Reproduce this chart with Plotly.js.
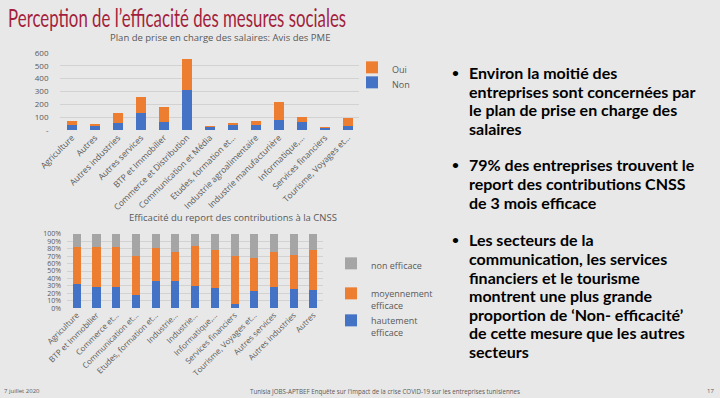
<!DOCTYPE html>
<html>
<head>
<meta charset="utf-8">
<script src="https://cdn.plot.ly/plotly-3.0.1.min.js"></script>
<style>
html,body{margin:0;padding:0;background:#e8e8e8;}
#chart{width:720px;height:398px;}
</style>
</head>
<body>
<div id="chart"></div>
<script>
// ---- Chart 1 data: Plan de prise en charge des salaires
const sectors1 = ["Agriculture", "Autres", "Autres industries", "Autres services", "BTP et Immobilier",
  "Commerce et Distribution", "Communication et Média", "Etudes, formation et…",
  "Industrie agroalimentaire", "Industrie manufacturière", "Informatique,…",
  "Services financiers", "Tourisme, Voyages et…"];
const non1 = [40, 29, 53, 130, 66, 312, 24, 37, 42, 79, 63, 13, 32];
const oui1 = [31, 19, 82, 127, 114, 244, 8, 21, 29, 141, 40, 8, 66];
const ticks1Vals = [0, 100, 200, 300, 400, 500, 600];
const ticks1Text = ["-", "100", "200", "300", "400", "500", "600"];

// ---- Chart 2 data: Efficacité du report des contributions à la CNSS (%)
const sectors2 = ["Agriculture", "BTP et Immobilier", "Commerce et Distribution", "Communication et Média",
  "Etudes, formation et conseil", "Industrie agroalimentaire", "Industrie manufacturière",
  "Informatique et télécoms", "Services financiers", "Tourisme, Voyages et loisirs",
  "Autres services", "Autres industries", "Autres"];
const labels2 = ["Agriculture", "BTP et Immobilier", "Commerce et…", "Communication et…",
  "Etudes, formation et…", "Industrie…", "Industrie…", "Informatique,…", "Services financiers",
  "Tourisme, Voyages et…", "Autres services", "Autres industries", "Autres"];
const haut2 = [32, 28, 28, 18, 36, 36, 30, 27, 5, 23, 29, 26, 25];
const moyen2 = [51, 54, 54, 52, 45, 40, 54, 52, 65, 45, 47, 46, 54];
const nonEff2 = [17, 18, 18, 30, 19, 24, 16, 21, 30, 32, 24, 28, 21];
const ticks2Vals = [0, 10, 20, 30, 40, 50, 60, 70, 80, 90, 100];
const ticks2Text = ticks2Vals.map(v => v + "%");

// ---- Slide text
const slideTitle = "Perception de l’efficacité des mesures sociales";
const bullets = [
  ["Environ la moitié des", "entreprises sont concernées par", "le plan de prise en charge des", "salaires"],
  ["79% des entreprises trouvent le", "report des contributions CNSS", "de 3 mois efficace"],
  ["Les secteurs de la", "communication, les services", "financiers et le tourisme", "montrent une plus grande",
   "proportion de ‘Non- efficacité’", "de cette mesure que les autres", "secteurs"]
];
const footerLeft = "7 juillet 2020";
const footerMid = "Tunisia JOBS-APTBEF Enquête sur l'impact de la crise COVID-19 sur les entreprises tunisiennes";
const footerRight = "17";

const BLUE = "#4472C4", ORANGE = "#ED7D31", GREY = "#A5A5A5";
const TXT = "#595959";
const F = "Open Sans, sans-serif";

const traces = [
  {type: "bar", name: "Non", x: sectors1, y: non1, marker: {color: BLUE}, width: 0.42,
   xaxis: "x", yaxis: "y", legend: "legend5"},
  {type: "bar", name: "Oui", x: sectors1, y: oui1, marker: {color: ORANGE}, width: 0.42,
   xaxis: "x", yaxis: "y", legend: "legend"},
  {type: "bar", name: "hautement<br>efficace", x: sectors2, y: haut2, marker: {color: BLUE}, width: 0.41,
   xaxis: "x2", yaxis: "y2", legend: "legend4"},
  {type: "bar", name: "moyennement<br>efficace", x: sectors2, y: moyen2, marker: {color: ORANGE}, width: 0.41,
   xaxis: "x2", yaxis: "y2", legend: "legend3"},
  {type: "bar", name: "non efficace", x: sectors2, y: nonEff2, marker: {color: GREY}, width: 0.41,
   xaxis: "x2", yaxis: "y2", legend: "legend2"}
];

const BF = {family: "Lato, sans-serif", size: 16, color: "#000000", weight: 700};
const px = v => v / 720, py = v => 1 - v / 398;

function leg(xp, ytop) {
  return {x: px(xp), y: py(ytop), xanchor: "left", yanchor: "top", valign: "top",
    bgcolor: "rgba(0,0,0,0)", font: {family: F, size: 9, color: TXT}, itemwidth: 30};
}

const annotations = [
  {text: slideTitle, xref: "paper", yref: "paper", x: px(177), y: py(17), xanchor: "center", yanchor: "middle",
   showarrow: false, font: {family: "Lato, sans-serif", size: 25, color: "#A31F3C"}},
  {text: "Plan de prise en charge des salaires: Avis des PME", xref: "paper", yref: "paper",
   x: px(220), y: py(38), xanchor: "center", yanchor: "middle", showarrow: false,
   font: {family: F, size: 9.5, color: TXT}},
  {text: "Efficacité du report des contributions à la CNSS", xref: "paper", yref: "paper",
   x: px(233), y: py(217), xanchor: "center", yanchor: "middle", showarrow: false,
   font: {family: F, size: 9.5, color: TXT}},
  {text: footerLeft, xref: "paper", yref: "paper", x: px(2), y: py(391), xanchor: "left",
   yanchor: "middle", showarrow: false, font: {family: F, size: 6, color: TXT}},
  {text: footerMid, xref: "paper", yref: "paper", x: px(385), y: py(391), xanchor: "center",
   yanchor: "middle", showarrow: false, font: {family: F, size: 6.2, color: TXT}},
  {text: footerRight, xref: "paper", yref: "paper", x: px(716), y: py(391), xanchor: "right",
   yanchor: "middle", showarrow: false, font: {family: F, size: 6, color: TXT}}
];

const bulletStart = [73, 165, 240];
const lineStep = 18.5;
bullets.forEach((lines, b) => {
  annotations.push({text: "•", xref: "paper", yref: "paper", x: px(455), y: py(bulletStart[b]),
    xanchor: "center", yanchor: "middle", showarrow: false,
    font: {family: "Lato, sans-serif", size: 12, color: "#000000", weight: 700}});
  lines.forEach((ln, i) => {
    annotations.push({text: ln, xref: "paper", yref: "paper", x: px(467), y: py(bulletStart[b] + i * lineStep),
      xanchor: "left", yanchor: "middle", showarrow: false, font: BF});
  });
});

const layout = {
  width: 720, height: 398,
  margin: {l: 0, r: 0, t: 0, b: 0},
  paper_bgcolor: "#e8e8e8", plot_bgcolor: "rgba(0,0,0,0)",
  barmode: "stack",
  showlegend: true,
  font: {family: F, color: TXT, size: 8},
  xaxis: {domain: [0.084, 0.499], anchor: "y", tickangle: -45, automargin: false,
    tickfont: {family: F, size: 8.5, color: TXT}, showgrid: false, showline: false, ticks: ""},
  yaxis: {domain: [0.673, 0.867], anchor: "x", range: [0, 600], tickvals: ticks1Vals, ticktext: ticks1Text,
    tickfont: {family: F, size: 8, color: TXT}, gridcolor: "#d2d2d2", gridwidth: 1, zeroline: false,
    showline: false, ticks: "", automargin: false, ticklabelstandoff: 11},
  xaxis2: {domain: [0.093, 0.449], anchor: "y2", tickangle: -45, automargin: false,
    tickvals: sectors2, ticktext: labels2,
    tickfont: {family: F, size: 8, color: TXT}, showgrid: false, showline: false, ticks: ""},
  yaxis2: {domain: [0.226, 0.412], anchor: "x2", range: [0, 100], tickvals: ticks2Vals, ticktext: ticks2Text,
    tickfont: {family: F, size: 7, color: TXT}, gridcolor: "#d2d2d2", gridwidth: 1, zeroline: false,
    showline: false, ticks: "", automargin: false, ticklabelstandoff: 5},
  legend: leg(352, 55),
  legend5: leg(352, 70),
  legend2: leg(331, 251),
  legend3: leg(331, 281),
  legend4: leg(331, 308),
  annotations: annotations
};

Plotly.newPlot("chart", traces, layout, {displayModeBar: false, staticPlot: true}).then(gd => {
  // condense the slide title to the reference's narrow face (text stays real text)
  gd.querySelectorAll(".annotation-text").forEach(el => {
    if (el.textContent === slideTitle) {
      el.setAttribute("textLength", "338");
      el.setAttribute("lengthAdjust", "spacingAndGlyphs");
    }
  });
});
</script>
</body>
</html>
